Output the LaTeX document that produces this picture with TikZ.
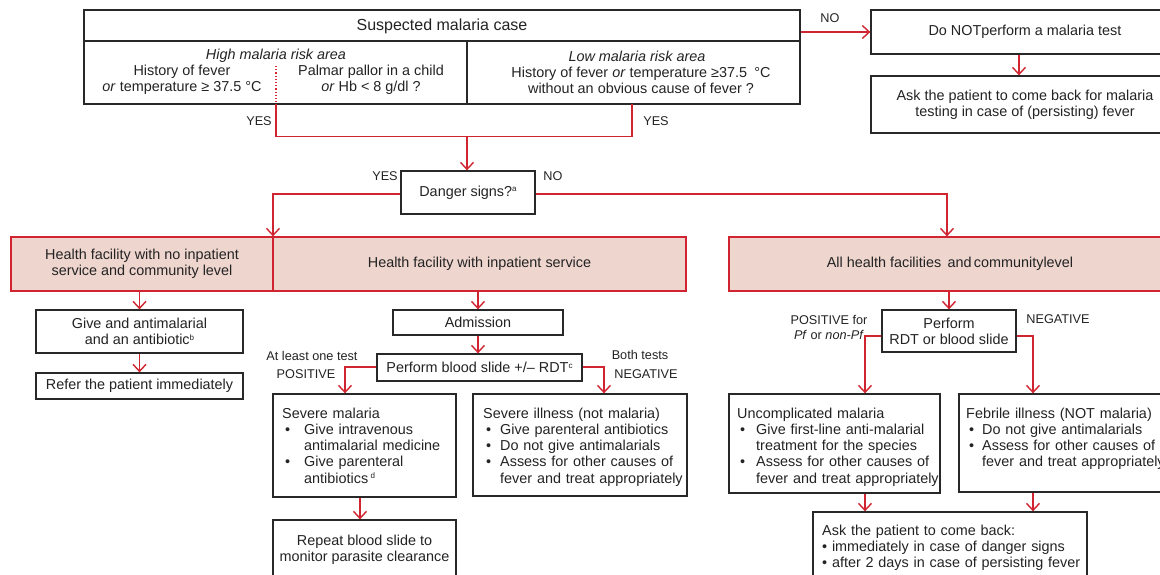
\documentclass[tikz,border=0pt]{standalone}
\usepackage{fontspec}
\setmainfont{Liberation Sans}
\usetikzlibrary{arrows.meta}
\definecolor{myred}{RGB}{208,36,48}
\definecolor{mypink}{RGB}{238,213,206}
\definecolor{boxgray}{RGB}{40,40,40}
\definecolor{txt}{RGB}{35,35,35}
\newcommand\bodyfont{\fontsize{14.4}{16.25}\selectfont}
\newcommand\lblfont{\fontsize{12.7}{15}\selectfont}
\newcommand\hdrfont{\fontsize{16}{18}\selectfont}
\newcommand\sps[1]{\raisebox{4.5pt}{\fontsize{8}{8}\selectfont #1}}
\newcommand\bul[2]{\makebox[#1][l]{\hspace{3pt}\textbullet}#2}
\begin{document}
\begin{tikzpicture}[x=1pt,y=-1pt,
 box/.style={draw=boxgray,line width=1.3pt,fill=white,inner sep=0pt,text=txt,align=center,font=\bodyfont},
 pinkbox/.style={draw=myred,line width=1.3pt,fill=mypink,inner sep=0pt,text=txt,align=center,font=\bodyfont},
 txtnode/.style={inner sep=0pt,text=txt,font=\bodyfont,align=center},
 bultext/.style={inner sep=0pt,text=txt,font=\bodyfont,anchor=base west,text width=215pt,align=left},
 lbl/.style={inner sep=0pt,text=txt,font=\lblfont,align=center},
 ln/.style={draw=myred,line width=1.4pt},
 arr/.style={ln,-{Straight Barb[length=7pt,width=13pt]}}]
\useasboundingbox (0,0) rectangle (1160,574);
\clip (0,0) rectangle (1160,574);

% ---------- top box ----------
\node[box,minimum width=716pt,minimum height=94pt] (suspect) at (442,57) {};
\coordinate (hl) at (84,41);
\coordinate (vdt) at (467,41);
\draw[boxgray,line width=1.3pt] (suspect.west |- hl) -- (suspect.east |- hl);
\draw[boxgray,line width=1.3pt] (vdt) -- (vdt |- suspect.south);
\node[txtnode,font=\hdrfont] (hdr) at (442,26) {Suspected malaria case};
\node[txtnode] (highhd) at (276,55.5) {\textit{High malaria risk area}};
\node[txtnode] (hist) at (182,79.5) {History of fever\\\textit{or} temperature ≥ 37.5 °C};
\node[txtnode] (palm) at (371,79.5) {Palmar pallor in a child\\\textit{or} Hb < 8 g/dl ?};
\node[txtnode] (lowhd) at (637,56.5) {\textit{Low malaria risk area}};
\node[txtnode] (lowtxt) at (641,80.5) {History of fever \textit{or} temperature ≥37.5\hspace{0.5em}°C\\without an obvious cause of fever ?};
\coordinate (dotTop) at (276,66);
\draw[myred,line width=1.2pt,dotted] (dotTop) -- (dotTop |- suspect.south);

% ---------- right top ----------
\node[box,minimum width=308pt,minimum height=44pt] (donot) at (1025,32) {Do NOTperform a malaria test};
\node[box,minimum width=308pt,minimum height=57pt] (askback) at (1025,104.5) {Ask the patient to come back for malaria\\testing in case of (persisting) fever};
\draw[arr] (suspect.east |- donot.west) -- (donot.west);
\draw[arr] (donot.south -| 1019,0) -- (askback.north -| 1019,0);
\node[lbl] (no0) at (830,18) {NO};

% ---------- yes join ----------
\coordinate (yesL) at (276,104);
\coordinate (yesR) at (632,104);
\coordinate (join) at (467,136.5);
\draw[ln] (yesL) |- (join) -| (yesR);
\node[lbl] (yes1) at (259,121) {YES};
\node[lbl] (yes2) at (656,121) {YES};

% ---------- danger ----------
\node[box,minimum width=134pt,minimum height=43pt] (danger) at (468,192.5) {Danger signs?\sps{a}};
\draw[arr] (join) -- (join |- danger.north);
\node[lbl] (yes3) at (385,176) {YES};
\node[lbl] (no1) at (553,176) {NO};

% ---------- pink boxes ----------
\node[pinkbox,minimum width=262pt,minimum height=54pt] (nofac) at (142,264) {Health facility with no inpatient\\service and community level};
\node[pinkbox,minimum width=413pt,minimum height=54pt] (infac) at (479.5,264) {Health facility with inpatient service};
\node[pinkbox,minimum width=442pt,minimum height=54pt] (allfac) at (950,264) {All health facilities\hspace{0.45em}and\hspace{0.15em}communitylevel};
\draw[myred,line width=1.3pt] (nofac.north east) -- (nofac.south east);

\coordinate (dl) at (273,194);
\coordinate (dr) at (947,194);
\draw[arr] (danger.west |- dl) -- (dl) -- (dl |- nofac.north);
\draw[arr] (danger.east |- dr) -- (dr) -- (dr |- allfac.north);

% ---------- left column ----------
\node[box,minimum width=207pt,minimum height=43pt] (give) at (139.5,331.5) {Give and antimalarial\\and an antibiotic\sps{b}};
\node[box,minimum width=207pt,minimum height=26pt] (refer) at (139.5,386) {Refer the patient immediately};
\draw[arr] (give.north |- nofac.south) -- (give.north);
\draw[arr] (give.south) -- (refer.north);

% ---------- middle column ----------
\node[box,minimum width=170pt,minimum height=25pt] (admit) at (478,322.5) {Admission};
\node[box,minimum width=205pt,minimum height=27pt] (blood) at (479.5,367.5) {Perform blood slide +/– RDT\sps{c}};
\draw[arr] (admit.north |- infac.south) -- (admit.north);
\draw[arr] (admit.south) -- (admit.south |- blood.north);

\node[box,minimum width=183pt,minimum height=103pt] (severe) at (364.5,445.5) {};
\node[box,minimum width=214pt,minimum height=102pt] (illness) at (580,445) {};
\node[box,minimum width=183pt,minimum height=60pt] (repeat) at (364.5,550) {Repeat blood slide to\\monitor parasite clearance};

\coordinate (bl) at (345,367);
\coordinate (br) at (604,367);
\draw[arr] (blood.west |- bl) -- (bl) -- (bl |- severe.north);
\draw[arr] (blood.east |- br) -- (br) -- (br |- illness.north);
\coordinate (rp) at (360,500);
\draw[arr] (rp |- severe.south) -- (rp |- repeat.north);

\node[lbl] (atleast) at (312,356) {At least one test};
\node[lbl] (pos1) at (306,374) {POSITIVE};
\node[lbl] (both) at (640,355) {Both tests};
\node[lbl] (neg1) at (646,374) {NEGATIVE};

\node[bultext] (severet) at (282,418) {Severe malaria\\
\bul{22pt}{Give intravenous}\\
\hspace*{22pt}antimalarial medicine\\
\bul{22pt}{Give parenteral}\\
\hspace*{22pt}antibiotics\,\sps{d}};

\node[bultext] (illnesst) at (483,418) {Severe illness (not malaria)\\
\bul{17pt}{Give parenteral antibiotics}\\
\bul{17pt}{Do not give antimalarials}\\
\bul{17pt}{Assess for other causes of}\\
\hspace*{17pt}fever and treat appropriately};

% ---------- right column ----------
\node[box,minimum width=134pt,minimum height=42pt] (rdt) at (949,331) {Perform\\RDT or blood slide};
\draw[arr] (allfac.south -| rdt.north) -- (rdt.north);
\node[box,minimum width=211pt,minimum height=99pt] (unc) at (834.5,443.5) {};
\node[box,minimum width=211pt,minimum height=98pt] (feb) at (1064.5,443) {};
\node[box,minimum width=274pt,minimum height=68pt] (askpt) at (950,546) {};

\coordinate (rl) at (865,336);
\coordinate (rr) at (1033,336);
\draw[arr] (rdt.west |- rl) -- (rl) -- (rl |- unc.north);
\draw[arr] (rdt.east |- rr) -- (rr) -- (rr |- feb.north);
\draw[arr] (rl |- unc.south) -- (rl |- askpt.north);
\draw[arr] (rr |- feb.south) -- (rr |- askpt.north);

\node[lbl] (posfor) at (829,327) {POSITIVE for\\\textit{Pf} or \textit{non-Pf}};
\node[lbl] (neg2) at (1058,319) {NEGATIVE};

\node[bultext] (unct) at (737,418) {Uncomplicated malaria\\
\bul{19pt}{Give first-line anti-malarial}\\
\hspace*{19pt}treatment for the species\\
\bul{19pt}{Assess for other causes of}\\
\hspace*{19pt}fever and treat appropriately};

\node[bultext] (febt) at (966,418) {Febrile illness (NOT malaria)\\
\bul{16pt}{Do not give antimalarials}\\
\bul{16pt}{Assess for other causes of}\\
\hspace*{16pt}fever and treat appropriately};

\node[bultext,text width=265pt] (askptt) at (822,535) {Ask the patient to come back:\\
\textbullet{} immediately in case of danger signs\\
\textbullet{} after 2 days in case of persisting fever};
\end{tikzpicture}
\end{document}
